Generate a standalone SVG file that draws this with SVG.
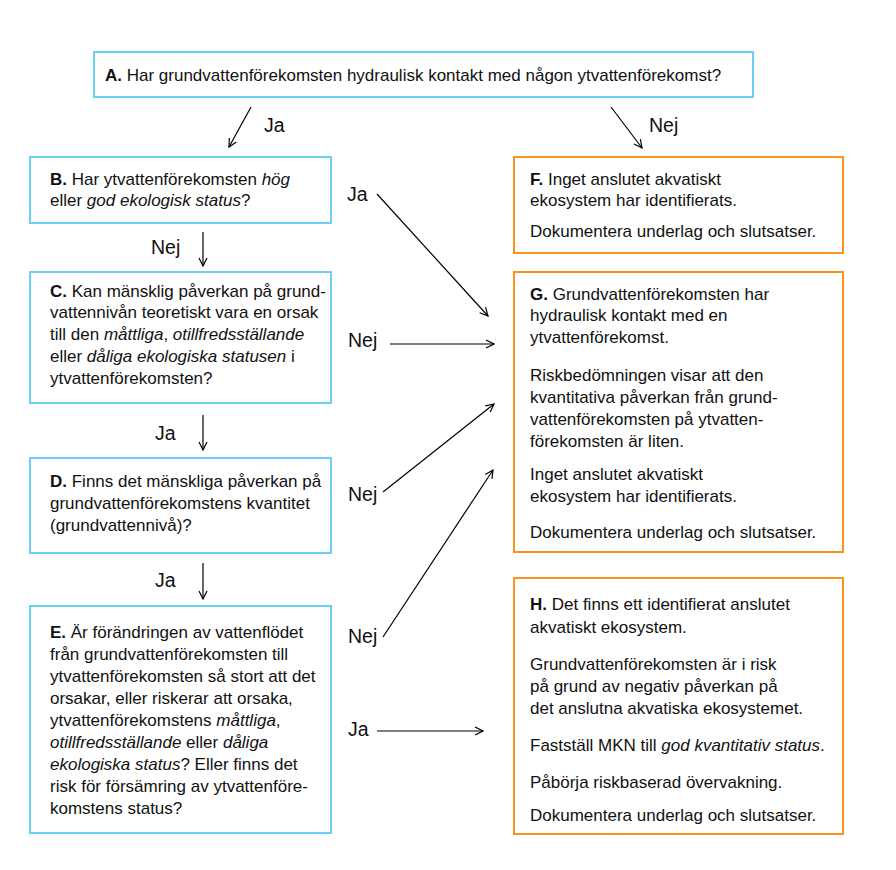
<svg xmlns="http://www.w3.org/2000/svg" width="896" height="870" viewBox="0 0 896 870">
<defs>
<style>
text{font-family:"Liberation Sans",Arial,sans-serif;font-size:17px;fill:#111}
.lbl{font-size:19.5px}
.q{fill:#fff;stroke:#6dcff6;stroke-width:2}
.r{fill:#fff;stroke:#f7941d;stroke-width:2}
.c{stroke:#000;stroke-width:1.2;fill:none;marker-end:url(#ah)}
</style>
<marker id="ah" viewBox="0 0 10 10" refX="9" refY="5" markerWidth="10" markerHeight="10" markerUnits="userSpaceOnUse" orient="auto">
<path d="M1,1 L9,5 L1,9" fill="none" stroke="#000" stroke-width="1.2"/>
</marker>
</defs>
<rect width="896" height="870" fill="#fff"/>
<g id="A"><rect class="q" x="94" y="52" width="659" height="45"/>
<text x="105" y="81"><tspan font-weight="bold">A.</tspan> Har grundvattenförekomsten hydraulisk kontakt med någon ytvattenförekomst?</text></g>
<g id="B"><rect class="q" x="30" y="157" width="301" height="66"/>
<text x="50" y="185"><tspan font-weight="bold">B.</tspan> Har ytvattenförekomsten <tspan font-style="italic">hög</tspan></text>
<text x="50" y="206">eller <tspan font-style="italic">god ekologisk status</tspan>?</text></g>
<g id="C"><rect class="q" x="30" y="272" width="301" height="131"/>
<text x="50" y="297"><tspan font-weight="bold">C.</tspan> Kan mänsklig påverkan på grund-</text>
<text x="50" y="318">vattennivån teoretiskt vara en orsak</text>
<text x="50" y="340">till den <tspan font-style="italic">måttliga</tspan>, <tspan font-style="italic">otillfredsställande</tspan></text>
<text x="50" y="362">eller <tspan font-style="italic">dåliga ekologiska statusen</tspan> i</text>
<text x="50" y="384">ytvattenförekomsten?</text></g>
<g id="D"><rect class="q" x="30" y="458" width="301" height="95"/>
<text x="50" y="487"><tspan font-weight="bold">D.</tspan> Finns det mänskliga påverkan på</text>
<text x="50" y="509">grundvattenförekomstens kvantitet</text>
<text x="50" y="531">(grundvattennivå)?</text></g>
<g id="E"><rect class="q" x="30" y="606" width="301" height="227"/>
<text x="50" y="638"><tspan font-weight="bold">E.</tspan> Är förändringen av vattenflödet</text>
<text x="50" y="660">från grundvattenförekomsten till</text>
<text x="50" y="682">ytvattenförekomsten så stort att det</text>
<text x="50" y="704">orsakar, eller riskerar att orsaka,</text>
<text x="50" y="726">ytvattenförekomstens <tspan font-style="italic">måttliga</tspan>,</text>
<text x="50" y="748"><tspan font-style="italic">otillfredsställande</tspan> eller <tspan font-style="italic">dåliga</tspan></text>
<text x="50" y="770"><tspan font-style="italic">ekologiska status</tspan>? Eller finns det</text>
<text x="50" y="792">risk för försämring av ytvattenföre-</text>
<text x="50" y="814">komstens status?</text></g>
<g id="F"><rect class="r" x="514" y="157" width="329" height="96"/>
<text x="530" y="185"><tspan font-weight="bold">F.</tspan> Inget anslutet akvatiskt</text>
<text x="530" y="206">ekosystem har identifierats.</text>
<text x="530" y="237">Dokumentera underlag och slutsatser.</text></g>
<g id="G"><rect class="r" x="514" y="272" width="329" height="280"/>
<text x="530" y="300"><tspan font-weight="bold">G.</tspan> Grundvattenförekomsten har</text>
<text x="530" y="321">hydraulisk kontakt med en</text>
<text x="530" y="343">ytvattenförekomst.</text>
<text x="530" y="381">Riskbedömningen visar att den</text>
<text x="530" y="403">kvantitativa påverkan från grund-</text>
<text x="530" y="425">vattenförekomsten på ytvatten-</text>
<text x="530" y="447">förekomsten är liten.</text>
<text x="530" y="480">Inget anslutet akvatiskt</text>
<text x="530" y="502">ekosystem har identifierats.</text>
<text x="530" y="538">Dokumentera underlag och slutsatser.</text></g>
<g id="H"><rect class="r" x="514" y="578" width="329" height="256"/>
<text x="530" y="610"><tspan font-weight="bold">H.</tspan> Det finns ett identifierat anslutet</text>
<text x="530" y="633">akvatiskt ekosystem.</text>
<text x="530" y="670">Grundvattenförekomsten är i risk</text>
<text x="530" y="692">på grund av negativ påverkan på</text>
<text x="530" y="714">det anslutna akvatiska ekosystemet.</text>
<text x="530" y="751">Fastställ MKN till <tspan font-style="italic">god kvantitativ status</tspan>.</text>
<text x="530" y="788">Påbörja riskbaserad övervakning.</text>
<text x="530" y="821">Dokumentera underlag och slutsatser.</text></g>
<g id="connectors">
<line class="c" x1="251" y1="107" x2="229" y2="147"/>
<line class="c" x1="611" y1="107" x2="642" y2="148"/>
<line class="c" x1="203" y1="232" x2="203" y2="266"/>
<line class="c" x1="203" y1="415" x2="203" y2="450"/>
<line class="c" x1="203" y1="563" x2="203" y2="599"/>
<line class="c" x1="377" y1="194" x2="488" y2="316"/>
<line class="c" x1="390" y1="344" x2="494" y2="344"/>
<line class="c" x1="383" y1="492" x2="494" y2="404"/>
<line class="c" x1="383" y1="637" x2="493" y2="470"/>
<line class="c" x1="377" y1="731" x2="483" y2="731"/>
<text class="lbl" x="264" y="132">Ja</text>
<text class="lbl" x="649" y="132">Nej</text>
<text class="lbl" x="151" y="254">Nej</text>
<text class="lbl" x="155" y="440">Ja</text>
<text class="lbl" x="155" y="587">Ja</text>
<text class="lbl" x="347" y="201">Ja</text>
<text class="lbl" x="348" y="347">Nej</text>
<text class="lbl" x="348" y="501">Nej</text>
<text class="lbl" x="348" y="643">Nej</text>
<text class="lbl" x="348" y="736">Ja</text>
</g>
</svg>
